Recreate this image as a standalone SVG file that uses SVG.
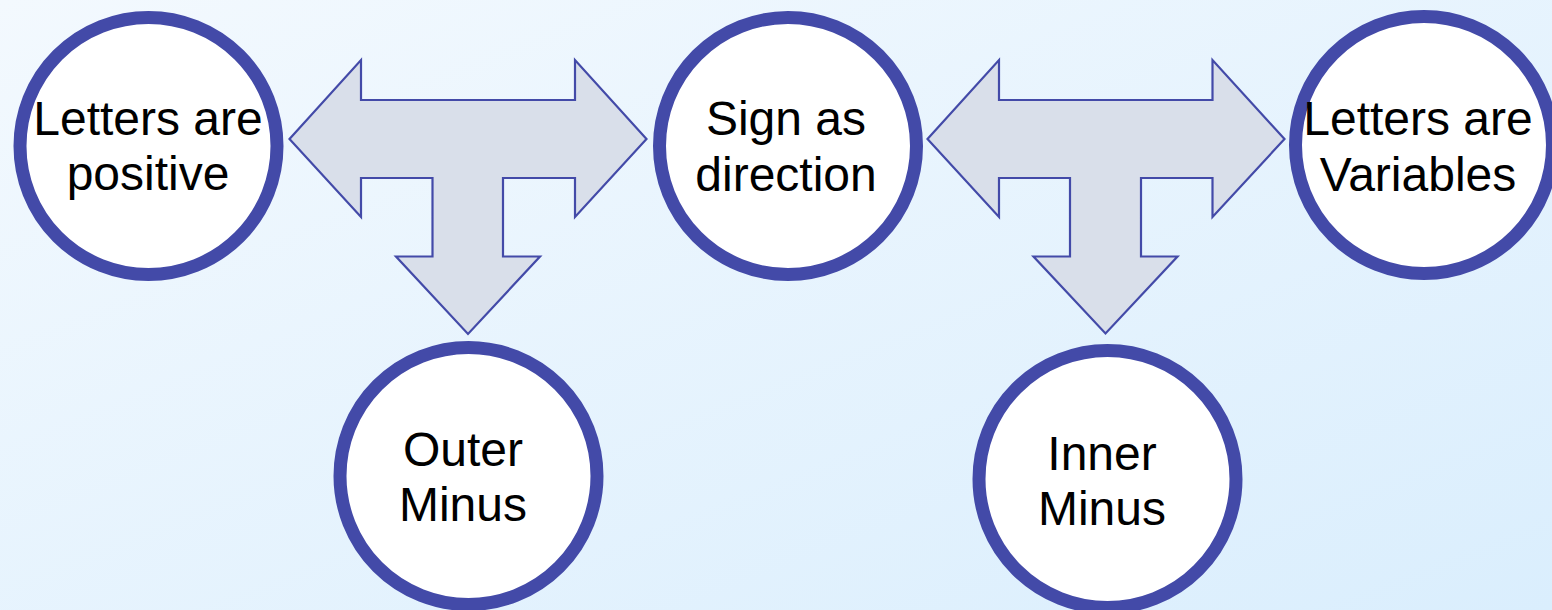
<svg xmlns="http://www.w3.org/2000/svg" width="1552" height="610" viewBox="0 0 1552 610">
<defs>
<linearGradient id="bg" x1="0" y1="0" x2="1" y2="1">
<stop offset="0" stop-color="#F3F9FE"/>
<stop offset="1" stop-color="#DAEEFD"/>
</linearGradient>
<style>
.node circle{fill:#FFFFFF;stroke:#434AA8;stroke-width:13}
.node text{font-family:"Liberation Sans",Arial,sans-serif;font-size:48px;fill:#000000;text-anchor:middle}
.arrow{fill:#D9DFEA;stroke:#434AA8;stroke-width:2.2;stroke-linejoin:miter}
</style>
</defs>
<rect x="0" y="0" width="1552" height="610" fill="url(#bg)"/>
<g id="connectors">
<polygon class="arrow" points="289.5,139 361,60 361,100 575,100 575,60 646.5,139 575,217 575,178 503,178 503,256.5 540,256.5 468,334 396,256.5 432.5,256.5 432.5,178 361,178 361,217"/>
<polygon class="arrow" points="927.5,139 999,60 999,100 1212.5,100 1212.5,60 1284.5,139 1212.5,217 1212.5,178 1141,178 1141,256.5 1177.5,256.5 1105.5,333.5 1033.5,256.5 1070,256.5 1070,178 999,178 999,217"/>
</g>
<g id="node-letters-positive" class="node">
<circle cx="148.5" cy="146" r="128.5"/>
<text x="148" y="135">Letters are</text>
<text x="148" y="190">positive</text>
</g>
<g id="node-sign-direction" class="node">
<circle cx="788" cy="146" r="128.5"/>
<text x="786" y="135">Sign as</text>
<text x="786" y="191">direction</text>
</g>
<g id="node-letters-variables" class="node">
<circle cx="1424" cy="145" r="128.5"/>
<text x="1418" y="135">Letters are</text>
<text x="1418" y="191">Variables</text>
</g>
<g id="node-outer-minus" class="node">
<circle cx="468.5" cy="476" r="128.5"/>
<text x="463" y="466">Outer</text>
<text x="463" y="521">Minus</text>
</g>
<g id="node-inner-minus" class="node">
<circle cx="1107.5" cy="479" r="128.5"/>
<text x="1102" y="470">Inner</text>
<text x="1102" y="525">Minus</text>
</g>
</svg>
